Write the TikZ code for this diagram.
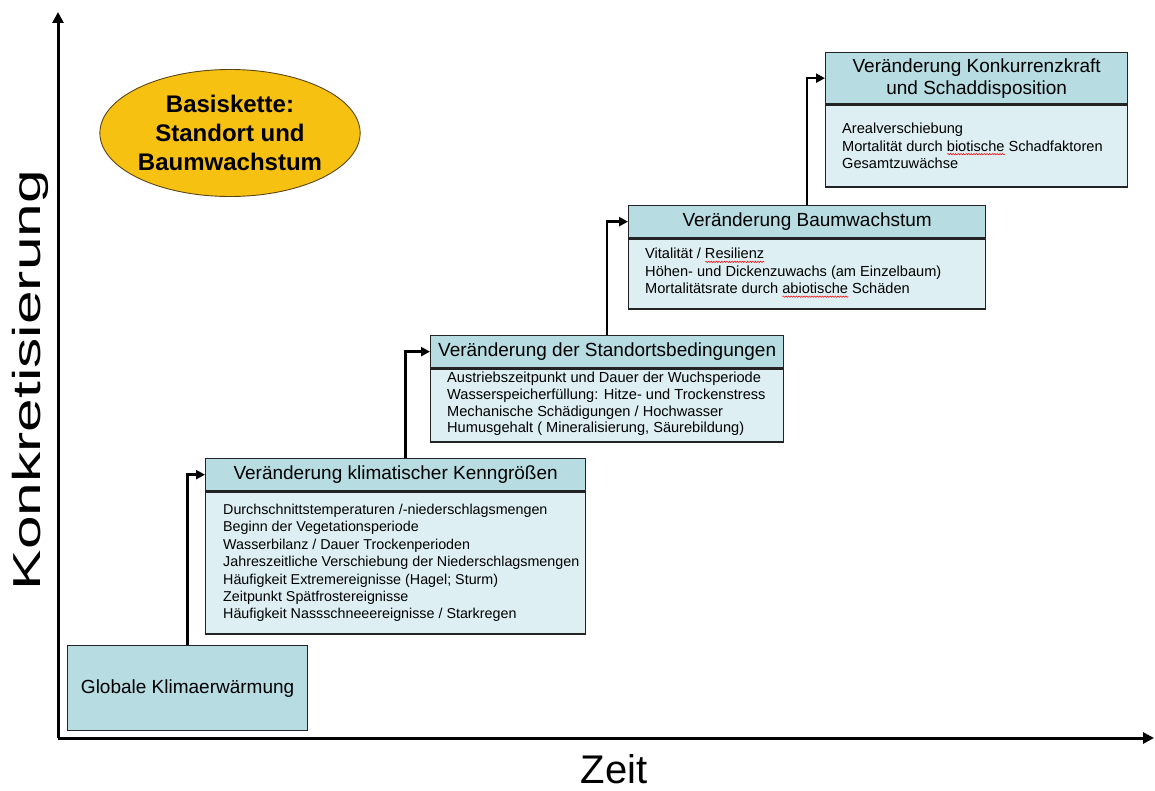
\documentclass[tikz,border=0pt]{standalone}
\usepackage{fontspec}
\setmainfont{Liberation Sans}
\usetikzlibrary{arrows.meta,calc,shapes.geometric,decorations.pathmorphing}

\definecolor{hdrfill}{RGB}{183,221,227}
\definecolor{bodfill}{RGB}{221,239,243}
\definecolor{edgecol}{RGB}{35,35,35}
\definecolor{goldfill}{RGB}{247,193,18}
\definecolor{goldedge}{RGB}{90,70,20}

% red spell-check wave under a word
\newsavebox{\spellbox}
\newcommand{\spellmark}[1]{\sbox{\spellbox}{#1}%
  \rlap{\tikz[baseline=0pt]\draw[red, line width=0.5pt, decorate,
        decoration={snake, amplitude=0.7pt, segment length=2.6pt}]
    (0pt,-3pt) -- (\wd\spellbox,-3pt);}\usebox{\spellbox}}

\tikzset{
  hdr/.style={draw=edgecol, fill=hdrfill, line width=1.3pt, anchor=north west,
    align=center, inner sep=0pt, font=\fontsize{19}{22}\selectfont},
  bod/.style={draw=edgecol, fill=bodfill, line width=1.3pt, anchor=north west,
    inner sep=0pt},
  btxt/.style={anchor=west, align=left, inner sep=0pt,
    font=\fontsize{14.6}{17.4}\selectfont},
  conn/.style={line width=2.6pt, -{Triangle[length=9pt,width=9pt]}},
  axis/.style={line width=3pt, -{Triangle[length=11pt,width=11pt]}},
  axlabel/.style={font=\fontsize{39}{42}\selectfont},
}

\begin{document}
\begin{tikzpicture}[x=1pt,y=-1pt]
\useasboundingbox (0,0) rectangle (1155,791);

% axes
\coordinate (O) at (58,738);
\coordinate (ytop) at (58,12);
\coordinate (xend) at (1154,738);
\draw[axis] (O) -- (ytop);
\draw[axis] (O) -- (xend);
\node[axlabel, rotate=90] (ylab) at (30,380) {\scalebox{1.55}[1]{Konkretisierung}};
\node[axlabel, inner sep=0pt, font=\fontsize{40}{42}\selectfont] (xlab) at (614,769) {Zeit};

% basic chain label
\node[ellipse, draw=goldedge, fill=goldfill, line width=0.9pt,
      minimum width=256pt, minimum height=127pt, inner sep=0pt,
      align=center, font=\bfseries\fontsize{24}{29}\selectfont] (basis) at (230,133)
  {Basiskette:\\Standort und\\Baumwachstum};

% step 1
\node[hdr, minimum width=240pt, minimum height=85pt]
  (b1) at (67,645) {Globale Klimaerwärmung};

% step 2
\node[hdr, minimum width=380pt, minimum height=32pt] (h2) at (205,458)
  {Veränderung klimatischer Kenngrößen};
\node[bod, minimum width=380pt, minimum height=142pt] (d2) at (h2.south west) {};
\node[btxt, font=\fontsize{14.3}{17.4}\selectfont] (t2) at ([xshift=18pt]d2.west)
  {Durchschnittstemperaturen /-niederschlagsmengen\\
   Beginn der Vegetationsperiode\\
   Wasserbilanz / Dauer Trockenperioden\\
   Jahreszeitliche Verschiebung der Niederschlagsmengen\\
   Häufigkeit Extremereignisse (Hagel; Sturm)\\
   Zeitpunkt Spätfrostereignisse\\
   Häufigkeit Nassschneeereignisse / Starkregen};

% step 3
\node[hdr, minimum width=353pt, minimum height=32pt] (h3) at (430,335)
  {Veränderung der Standortsbedingungen};
\node[bod, minimum width=353pt, minimum height=73pt] (d3) at (h3.south west) {};
\node[btxt, font=\fontsize{14.6}{16.6}\selectfont] (t3) at ([xshift=17pt,yshift=1.5pt]d3.west)
  {Austriebszeitpunkt und Dauer der Wuchsperiode\\
   Wasserspeicherfüllung: Hitze- und Trockenstress\\
   Mechanische Schädigungen / Hochwasser\\
   Humusgehalt ( Mineralisierung, Säurebildung)};

% step 4
\node[hdr, minimum width=357pt, minimum height=32pt] (h4) at (628,205)
  {Veränderung Baumwachstum};
\node[bod, minimum width=357pt, minimum height=70pt] (d4) at (h4.south west) {};
\node[btxt] (t4) at ([xshift=17pt,yshift=1pt]d4.west)
  {Vitalität / \spellmark{Resilienz}\\
   Höhen- und Dickenzuwachs (am Einzelbaum)\\
   Mortalitätsrate durch \spellmark{abiotische} Schäden};

% step 5
\node[hdr, minimum width=302pt, minimum height=51pt] (h5) at (825,52)
  {Veränderung Konkurrenzkraft\\und Schaddisposition};
\node[bod, minimum width=302pt, minimum height=82pt] (d5) at (h5.south west) {};
\node[btxt] (t5) at ([xshift=17pt]d5.west)
  {Arealverschiebung\\
   Mortalität durch \spellmark{biotische} Schadfaktoren\\
   Gesamtzuwächse};

% step connectors
\draw[conn] (b1.north) |- (h2.west);
\draw[conn] ($(h2.north west)!0.526!(h2.north east)$) |- (h3.west);
\draw[conn] (h3.north) |- (h4.west);
\draw[conn] (h4.north) |- (h5.west);
\end{tikzpicture}
\end{document}
